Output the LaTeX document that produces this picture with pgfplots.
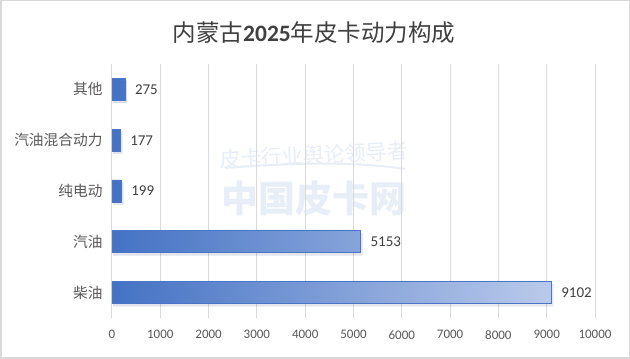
\documentclass[border=0pt]{standalone}
\usepackage{pgfplots}
\pgfplotsset{compat=1.18}
\usepackage{fontspec}
\setmainfont{Carlito}
\newfontfamily\cjk{Noto Sans CJK SC}
\definecolor{barL}{HTML}{4472C4}
\definecolor{barR}{HTML}{BACAEB}
\definecolor{barE}{HTML}{4A74C6}
\definecolor{gridc}{HTML}{D9D9D9}
\definecolor{txt}{HTML}{595959}
\definecolor{ttl}{HTML}{404040}
\definecolor{wm}{HTML}{E8EEF8}
\begin{document}
\begin{tikzpicture}[x=1pt,y=1pt]
\path[fill=white,draw=gridc,line width=1.5pt] (0.75,0.75) rectangle (629.25,358.25);
\node[font=\fontsize{23.5}{23.5}\selectfont,text=ttl] at (314,326) {{\cjk 内蒙古}{\bfseries 2025}{\cjk 年皮卡动力构成}};
\node[font=\cjk\fontsize{21}{21}\selectfont,text=wm,rotate=3] at (314,204) {皮卡行业舆论领导者};
\draw[wm,line width=2pt] (225,191) .. controls (300,197) and (360,197) .. (405,190);
\node[font=\cjk\bfseries\fontsize{37}{37}\selectfont,text=wm] at (314,160) {中国皮卡网};
\begin{axis}[
  at={(112pt,41pt)}, anchor=south west,
  scale only axis, width=483pt, height=254pt,
  xbar, bar width=22pt,
  xmin=0, xmax=10000, ymin=-0.5, ymax=4.5,
  xtick={0,1000,...,10000},
  ytick={0,1,2,3,4},
  yticklabels={柴油,汽油,纯电动,汽油混合动力,其他},
  scaled x ticks=false,
  xticklabel style={/pgf/number format/assume math mode=true,/pgf/number format/1000 sep={},font=\fontsize{13}{13}\selectfont,text=txt,yshift=-9pt},
  yticklabel style={font=\cjk\fontsize{14.7}{14.7}\selectfont,text=txt,xshift=-6pt},
  xmajorgrids, grid style={gridc,line width=1pt},
  axis line style={draw=none}, major tick length=0pt, tick style={draw=none},
  nodes near coords,
  every node near coord/.append style={font=\fontsize{15}{15}\selectfont,text=ttl,xshift=6pt,/pgf/number format/assume math mode=true,/pgf/number format/1000 sep={}},
  clip=false,
]
\addplot[draw=barE,line width=0.8pt,left color=barL,right color=barR,
  preaction={fill=black,opacity=0.07,transform canvas={xshift=1.5pt,yshift=-2.5pt}}]
  coordinates {(9102,0) (5153,1) (199,2) (177,3) (275,4)};
\end{axis}
\end{tikzpicture}
\end{document}
